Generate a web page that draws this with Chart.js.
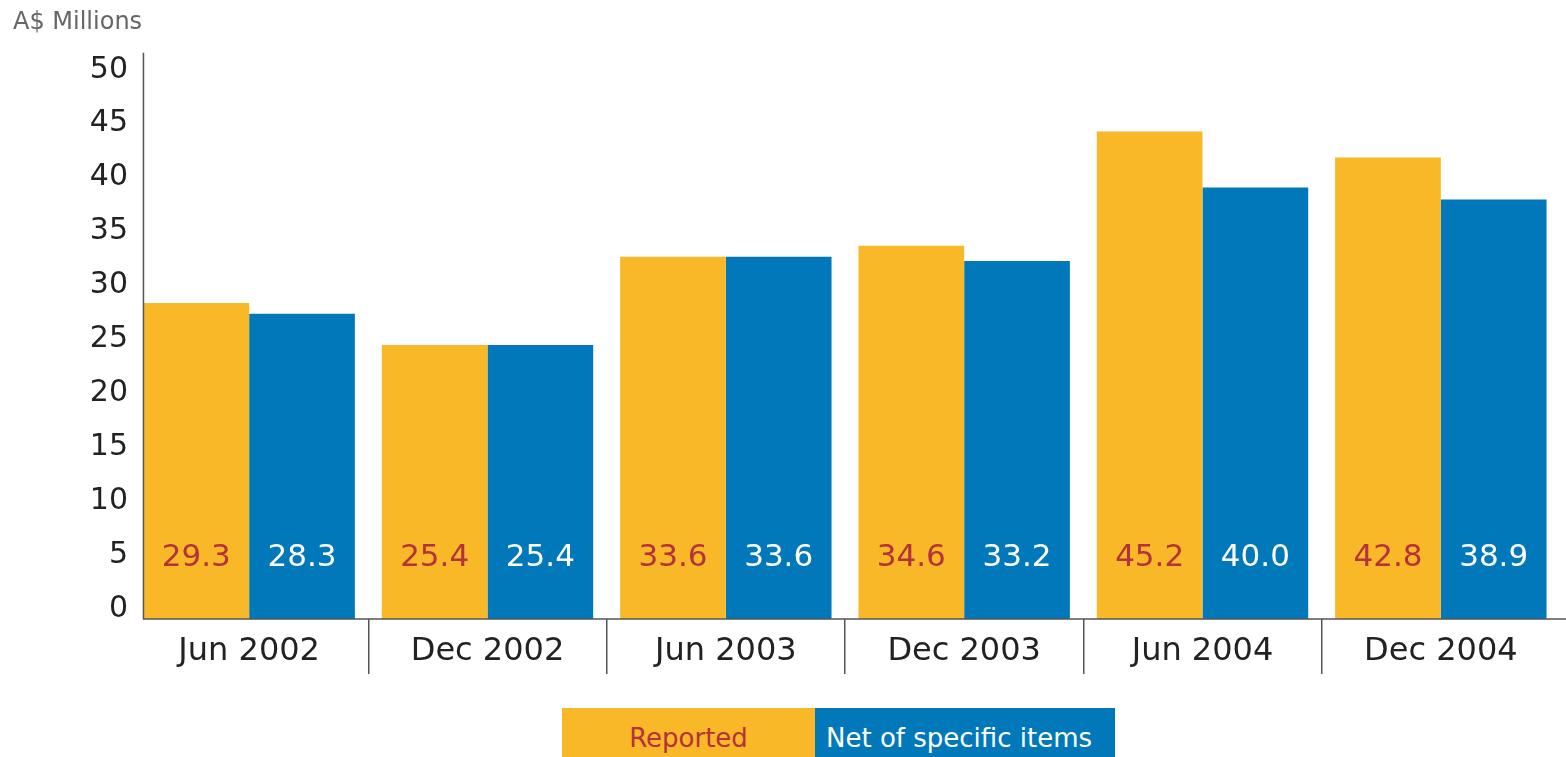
<!DOCTYPE html>
<html>
<head>
<meta charset="utf-8">
<script src="https://cdn.jsdelivr.net/npm/chart.js@4.4.1/dist/chart.umd.min.js"></script>
<style>
  html, body { margin: 0; padding: 0; background: #fff; overflow: hidden; }
  #wrap { position: relative; width: 1566px; height: 757px; }
  #legend { position: absolute; left: 562px; top: 708px; display: flex; height: 60px;
            font-family: "DejaVu Sans", sans-serif; font-size: 26px; }
  #legend .item { display: flex; align-items: center; height: 60px; box-sizing: border-box; }
</style>
</head>
<body>
<div id="wrap">
  <canvas id="chart"></canvas>
  <div id="legend"></div>
</div>
<script>
// Half-year periods
const categories = ['Jun 2002', 'Dec 2002', 'Jun 2003', 'Dec 2003', 'Jun 2004', 'Dec 2004'];
// A$ millions
const reported = [29.3, 25.4, 33.6, 34.6, 45.2, 42.8];
const netOfSpecific = [28.3, 25.4, 33.6, 33.2, 40.0, 38.9];
const yTicks = [0, 5, 10, 15, 20, 25, 30, 35, 40, 45, 50];

const seriesNames = ['Reported', 'Net of specific items'];
const seriesColors = ['#F8B827', '#0078BA'];
const valueColors = ['#B5313B', '#FFFFFF'];
const FONT = '"DejaVu Sans", sans-serif';

// Axis line along the left of the first bar and the baseline
const axisLines = {
  id: 'axisLines',
  afterDatasetsDraw(chart) {
    const { ctx } = chart;
    const y = chart.scales.y;
    const first = chart.getDatasetMeta(0).data[0];
    const x0 = first.x - first.width / 2;
    const base = y.getPixelForValue(0);
    ctx.save();
    ctx.strokeStyle = '#555';
    ctx.lineWidth = 1.5;
    ctx.beginPath();
    ctx.moveTo(x0, y.top);
    ctx.lineTo(x0, base);
    ctx.lineTo(chart.width, base);
    ctx.stroke();
    ctx.restore();
  }
};

// Value written near the foot of each bar
const valueLabels = {
  id: 'valueLabels',
  afterDatasetsDraw(chart) {
    const { ctx } = chart;
    ctx.save();
    ctx.font = '31px ' + FONT;
    ctx.textAlign = 'center';
    ctx.textBaseline = 'middle';
    chart.data.datasets.forEach((ds, i) => {
      chart.getDatasetMeta(i).data.forEach((bar, j) => {
        ctx.fillStyle = valueColors[i];
        ctx.fillText(ds.data[j].toFixed(1), bar.x, bar.base - 61);
      });
    });
    ctx.restore();
  }
};

const seriesData = [reported, netOfSpecific];

new Chart(document.getElementById('chart'), {
  type: 'bar',
  data: {
    labels: categories,
    datasets: seriesData.map((d, i) => ({
      label: seriesNames[i],
      data: d,
      backgroundColor: seriesColors[i],
      borderWidth: 0,
      categoryPercentage: 0.887,
      barPercentage: 1.0
    }))
  },
  options: {
    responsive: true,
    maintainAspectRatio: false,
    animation: false,
    layout: { padding: { left: 13, right: 6, top: 0, bottom: 0 } },
    plugins: {
      legend: { display: false },
      tooltip: { enabled: false },
      title: {
        display: true,
        text: 'A$ Millions',
        align: 'start',
        color: '#666',
        font: { family: FONT, size: 24, weight: 'normal' },
        padding: { top: 8, bottom: 16 }
      }
    },
    scales: {
      x: {
        offset: true,
        grid: {
          display: true,
          drawOnChartArea: false,
          drawTicks: true,
          tickLength: 55,
          lineWidth: 1.5,
          color: c => (c.index > 0 && c.index < categories.length) ? '#555' : 'rgba(0,0,0,0)'
        },
        border: { display: false },
        ticks: {
          color: '#222',
          font: { family: FONT, size: 32 },
          padding: -42,
          maxRotation: 0,
          autoSkip: false
        },
        afterFit(s) { s.height = 138; }
      },
      y: {
        min: 0,
        max: 52.5,
        afterBuildTicks(s) { s.ticks = yTicks.map(v => ({ value: v })); },
        grid: { display: false, drawTicks: false },
        border: { display: false },
        ticks: {
          color: '#222',
          font: { family: FONT, size: 30 },
          padding: 2,
          labelOffset: -10
        },
        afterFit(s) { s.width = 117; }
      }
    }
  },
  plugins: [axisLines, valueLabels]
});

// Legend: two coloured blocks with the series names inside
const legend = document.getElementById('legend');
const legendWidths = [253, 300];
seriesNames.forEach((name, i) => {
  const el = document.createElement('div');
  el.className = 'item';
  el.textContent = name;
  el.style.background = seriesColors[i];
  el.style.color = valueColors[i];
  el.style.width = legendWidths[i] + 'px';
  if (i === 0) { el.style.justifyContent = 'center'; }
  else { el.style.paddingLeft = '11px'; }
  legend.appendChild(el);
});
</script>
</body>
</html>
